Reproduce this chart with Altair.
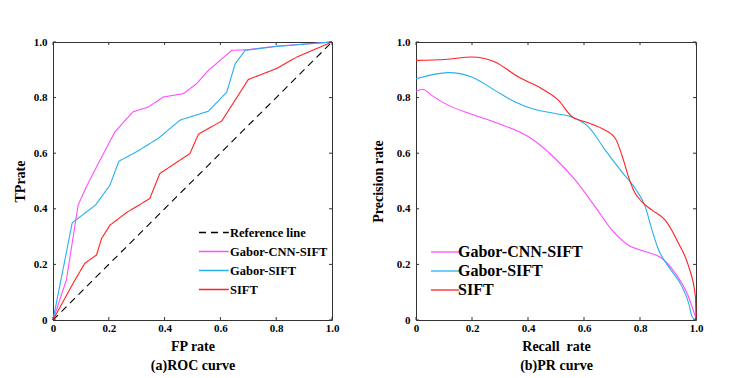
import altair as alt
import pandas as pd

# ---------------- data ----------------
ticks = [0, 0.2, 0.4, 0.6, 0.8, 1.0]

roc_series = ["Reference line", "Gabor-CNN-SIFT", "Gabor-SIFT", "SIFT"]
roc_colors = ["#000000", "#ff4dff", "#26b0ee", "#ff2222"]

ref_x = [0.0, 1.0]
ref_y = [0.0, 1.0]

cnn_roc_x = [0.0, 0.048, 0.09, 0.12, 0.156, 0.222, 0.287, 0.341, 0.395, 0.467, 0.515, 0.557, 0.641, 0.695, 0.80, 1.0]
cnn_roc_y = [0.0, 0.144, 0.413, 0.48, 0.551, 0.677, 0.749, 0.766, 0.802, 0.814, 0.850, 0.898, 0.970, 0.972, 0.985, 1.0]

gab_roc_x = [0.0, 0.069, 0.152, 0.204, 0.236, 0.299, 0.377, 0.455, 0.557, 0.623, 0.653, 0.689, 0.80, 1.0]
gab_roc_y = [0.0, 0.35, 0.413, 0.485, 0.571, 0.605, 0.653, 0.719, 0.751, 0.820, 0.922, 0.970, 0.984, 1.0]

sift_roc_x = [0.0, 0.072, 0.114, 0.156, 0.174, 0.204, 0.263, 0.347, 0.383, 0.491, 0.521, 0.605, 0.70, 0.80, 0.874, 1.0]
sift_roc_y = [0.0, 0.132, 0.204, 0.234, 0.293, 0.341, 0.386, 0.437, 0.527, 0.599, 0.668, 0.716, 0.865, 0.904, 0.946, 1.0]

pr_series = ["Gabor-CNN-SIFT", "Gabor-SIFT", "SIFT"]
pr_colors = ["#ff4dff", "#26b0ee", "#ff2222"]

cnn_pr_x = [0.0, 0.026, 0.056, 0.116, 0.199, 0.294, 0.402, 0.497, 0.569, 0.640, 0.700, 0.759, 0.819, 0.878, 0.926, 0.968, 0.998]
cnn_pr_y = [0.824, 0.829, 0.808, 0.772, 0.740, 0.707, 0.659, 0.581, 0.503, 0.407, 0.323, 0.269, 0.246, 0.222, 0.168, 0.096, 0.012]

gab_pr_x = [0.0, 0.116, 0.199, 0.282, 0.354, 0.425, 0.497, 0.569, 0.616, 0.676, 0.735, 0.783, 0.819, 0.843, 0.867, 0.902, 0.95, 0.974, 0.986, 1.0]
gab_pr_y = [0.868, 0.89, 0.874, 0.826, 0.784, 0.757, 0.743, 0.725, 0.695, 0.611, 0.533, 0.473, 0.407, 0.323, 0.251, 0.192, 0.120, 0.06, 0.012, 0.0]

sift_pr_x = [0.0, 0.104, 0.199, 0.282, 0.366, 0.449, 0.509, 0.557, 0.604, 0.664, 0.712, 0.741, 0.759, 0.777, 0.807, 0.843, 0.890, 0.938, 0.974, 0.998, 1.0]
sift_pr_y = [0.934, 0.937, 0.946, 0.928, 0.874, 0.832, 0.790, 0.731, 0.713, 0.689, 0.653, 0.575, 0.515, 0.467, 0.425, 0.395, 0.359, 0.275, 0.192, 0.084, 0.0]


def long_df(pairs):
    rows = []
    for name, xs, ys in pairs:
        for i, (a, b) in enumerate(zip(xs, ys)):
            rows.append({"series": name, "x": a, "y": b, "order": i})
    return pd.DataFrame(rows)


roc_df = long_df([
    ("Reference line", ref_x, ref_y),
    ("Gabor-CNN-SIFT", cnn_roc_x, cnn_roc_y),
    ("Gabor-SIFT", gab_roc_x, gab_roc_y),
    ("SIFT", sift_roc_x, sift_roc_y),
])
pr_df = long_df([
    ("Gabor-CNN-SIFT", cnn_pr_x, cnn_pr_y),
    ("Gabor-SIFT", gab_pr_x, gab_pr_y),
    ("SIFT", sift_pr_x, sift_pr_y),
])
tick_df = pd.DataFrame({"x": ticks, "y": ticks})

# ---------------- styling ----------------
FONT = "Liberation Serif"
W, H = 279, 278
FRAME = "#333333"
label_expr = "datum.value == 0 ? '0' : format(datum.value, '.1f')"


def x_enc(title):
    return alt.X("x:Q", scale=alt.Scale(domain=[0, 1], nice=False),
                 axis=alt.Axis(values=ticks, labelExpr=label_expr, tickSize=0, grid=False,
                               domain=False, labelPadding=2, labelFlush=False, title=title,
                               titleLineHeight=19, titlePadding=6))


def y_enc(title, tpad):
    return alt.Y("y:Q", scale=alt.Scale(domain=[0, 1], nice=False),
                 axis=alt.Axis(values=ticks, labelExpr=label_expr, tickSize=0, grid=False,
                               domain=False, labelPadding=6, labelFlush=False, title=title,
                               titlePadding=tpad))


def tick_layers(xe, ye, w):
    base = alt.Chart(tick_df).mark_rule(color=FRAME, strokeWidth=1)
    return [
        base.encode(x=xe, y=alt.value(H), y2=alt.value(H - 3)),
        base.encode(x=xe, y=alt.value(0), y2=alt.value(3)),
        base.encode(y=ye, x=alt.value(0), x2=alt.value(3)),
        base.encode(y=ye, x=alt.value(w), x2=alt.value(w - 3)),
    ]


SYMBOL = "M-1,0H2.5"

lx = x_enc(["FP rate", "(a)ROC curve"])
ly = y_enc("TPrate", 6)
roc_lines = alt.Chart(roc_df).mark_line(strokeWidth=1.1).encode(
    x=lx,
    y=ly,
    color=alt.Color("series:N", scale=alt.Scale(domain=roc_series, range=roc_colors),
                    sort=roc_series,
                    legend=alt.Legend(orient="none", legendX=145, legendY=181, title=None,
                                      symbolType=SYMBOL, symbolSize=289, symbolStrokeWidth=1.3,
                                      labelFont=FONT, labelFontSize=12.5, labelFontWeight="bold",
                                      labelOffset=13, rowPadding=3, labelColor="#000")),
    strokeDash=alt.StrokeDash("series:N", scale=alt.Scale(domain=roc_series,
                              range=[[7, 5], [1, 0], [1, 0], [1, 0]]), sort=roc_series),
    detail="series:N",
    order="order:Q",
)

left = alt.layer(roc_lines, *tick_layers(lx, ly, W)).properties(width=W, height=H)

rx = x_enc(["Recall \u00a0rate", "(b)PR curve"])
ry = y_enc("Precision rate", 11)
pr_lines = alt.Chart(pr_df).mark_line(strokeWidth=1.1, interpolate="monotone").encode(
    x=rx,
    y=ry,
    color=alt.Color("series:N", scale=alt.Scale(domain=pr_series, range=pr_colors),
                    sort=pr_series,
                    legend=alt.Legend(orient="none", legendX=14, legendY=201, title=None,
                                      symbolType=SYMBOL, symbolSize=256, symbolStrokeWidth=1.3,
                                      labelFont=FONT, labelFontSize=16, labelFontWeight="bold",
                                      labelOffset=10, rowPadding=2, labelColor="#000")),
    order="order:Q",
)

right = alt.layer(pr_lines, *tick_layers(rx, ry, W + 1)).properties(width=W + 1, height=H)

chart = alt.hconcat(left, right, spacing=30).resolve_scale(
    color="independent", strokeDash="independent"
).resolve_legend(color="independent", strokeDash="independent").configure_view(
    stroke=FRAME, strokeWidth=1
).configure_axis(
    labelFont=FONT, labelFontSize=11, labelFontWeight="bold", labelColor="#000",
    titleFont=FONT, titleFontSize=14, titleFontWeight="bold", titleColor="#000",
).properties(background="white", padding={"left": 4, "top": 27, "right": 5, "bottom": 5})

chart.save("out.html", embed_options={"renderer": "svg", "actions": False})
